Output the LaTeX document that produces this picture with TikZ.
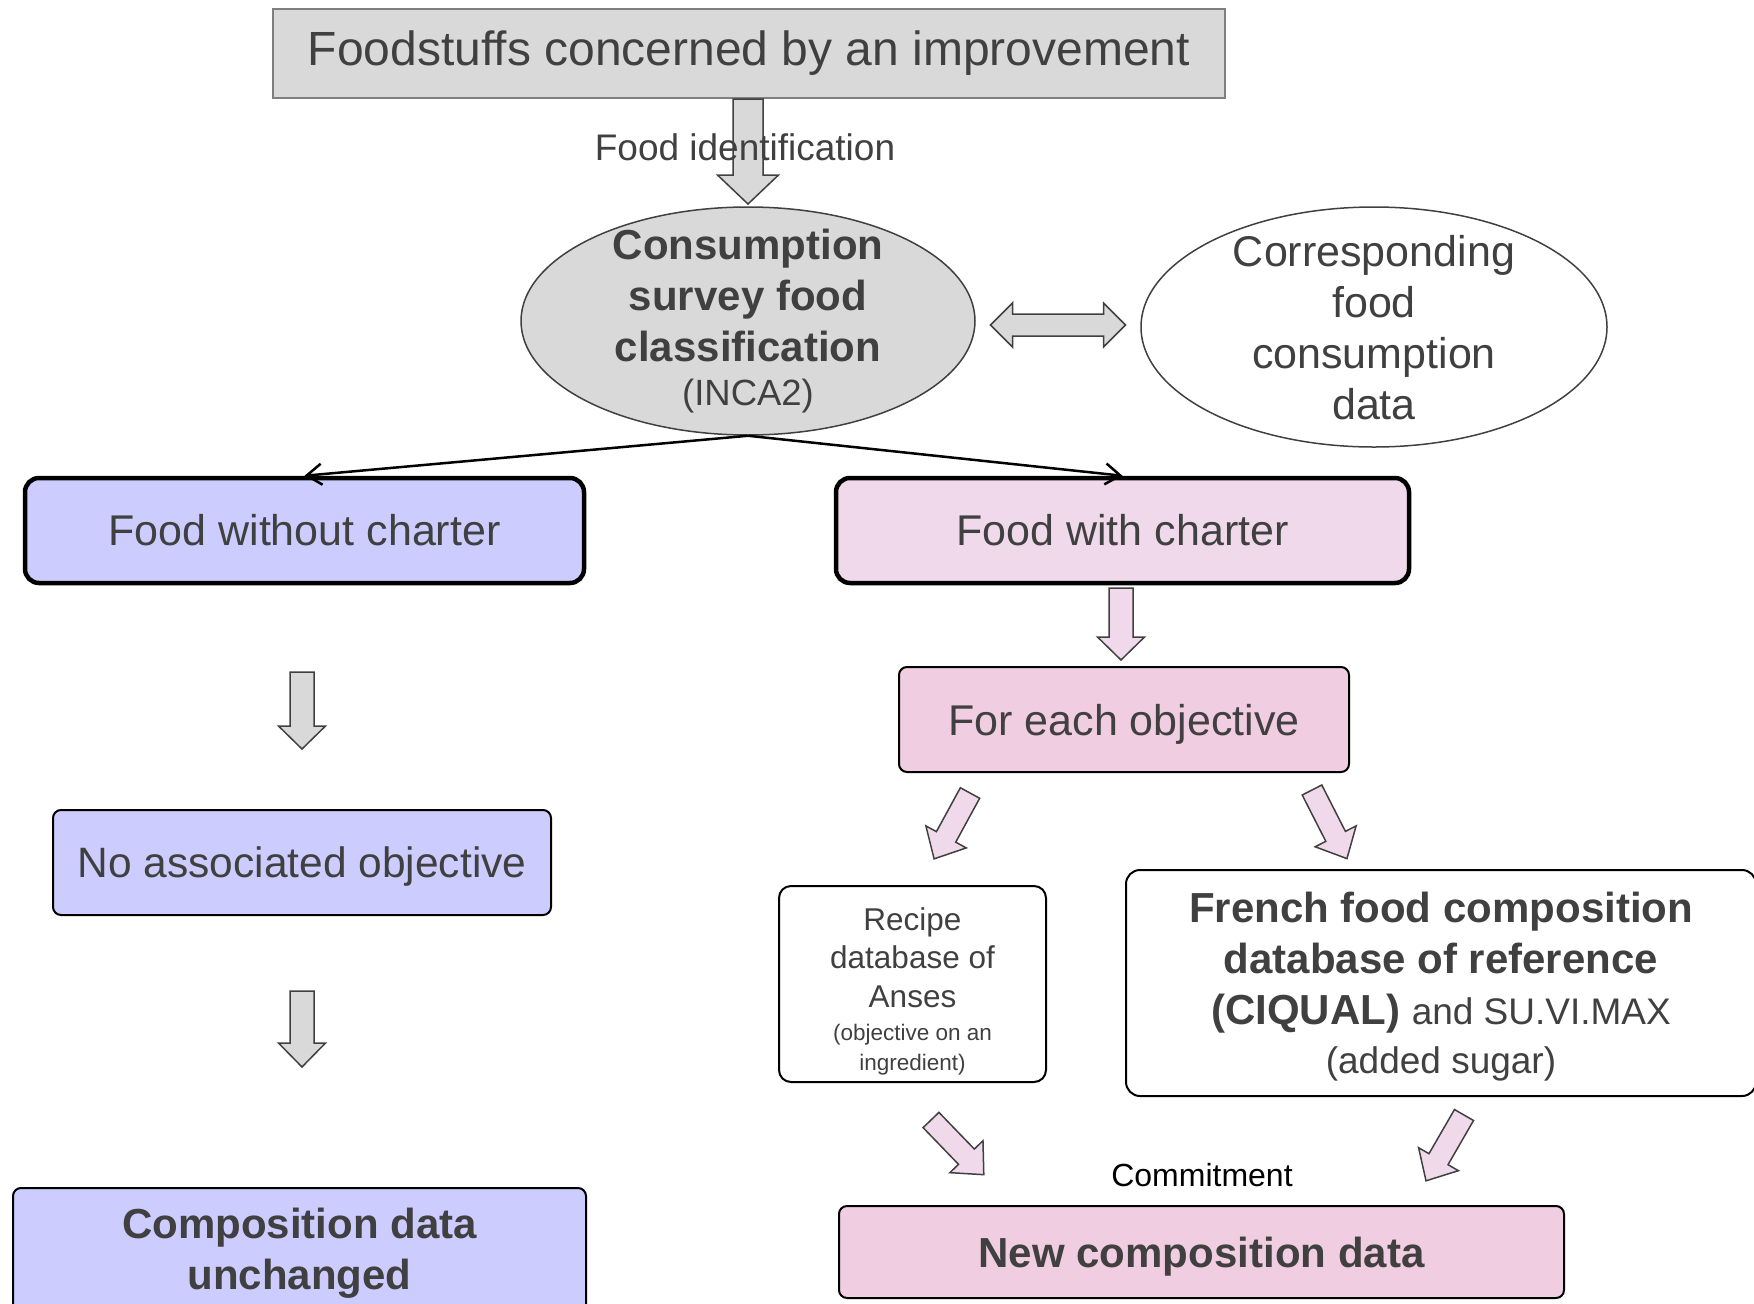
\documentclass[tikz,border=0pt]{standalone}
\usepackage{fontspec}
\setmainfont{Liberation Sans}
\usetikzlibrary{arrows.meta,shapes.geometric}
\definecolor{boxgray}{HTML}{D9D9D9}
\definecolor{edgegray}{HTML}{7F7F7F}
\definecolor{txtgray}{HTML}{404040}
\definecolor{lavender}{HTML}{CCCCFF}
\definecolor{pinklight}{HTML}{F0D9EA}
\definecolor{pinkmid}{HTML}{F0CDE0}
\newcommand{\fatarrow}[7]{\draw[#1,shift={(#2)},rotate=#3] (0,-#5) -- (#4-#7,-#5) -- (#4-#7,-#6) -- (#4,0) -- (#4-#7,#6) -- (#4-#7,#5) -- (0,#5) -- cycle;}
\newcommand{\dblfatarrow}[6]{\draw[#1,shift={(#2)}] (-#3/2,0) -- (-#3/2+#6,#5) -- (-#3/2+#6,#4) -- (#3/2-#6,#4) -- (#3/2-#6,#5) -- (#3/2,0) -- (#3/2-#6,-#5) -- (#3/2-#6,-#4) -- (-#3/2+#6,-#4) -- (-#3/2+#6,-#5) -- cycle;}
\tikzset{
  base/.style={text=txtgray, align=center, inner sep=0pt, font=\fontsize{43}{51}\selectfont},
  thickbox/.style={base, draw=black, line width=4.5pt, rounded corners=14pt, minimum height=105pt},
  thinbox/.style={base, draw=black, line width=2pt, rounded corners=8pt},
  oval/.style={base, ellipse, draw=txtgray, line width=1.5pt, inner xsep=0pt, inner ysep=-20pt},
  fatgray/.style={fill=boxgray, draw=txtgray, line width=1.5pt},
  fatpink/.style={fill=pinklight, draw=txtgray, line width=1.5pt},
  link/.style={line width=2.5pt, -{Straight Barb[length=15pt,width=21pt,line width=2.5pt]}}
}
\begin{document}
\begin{tikzpicture}[x=1pt,y=-1pt]
  \useasboundingbox (0,0) rectangle (1754,1304);
  \clip (0,0) rectangle (1754,1304);
  \node[base, fill=boxgray, draw=edgegray, line width=1.5pt, minimum width=952pt, minimum height=89pt,
        font=\fontsize{48}{56}\selectfont] (foodstuffs) at (749,53.5) {Foodstuffs concerned by an improvement};
  \node[oval, fill=boxgray, minimum width=454pt, minimum height=228pt,
        font=\fontsize{42}{51}\selectfont\bfseries] (survey) at (748,321)
        {Consumption\\survey food\\classification\\[-7pt]{\mdseries\fontsize{36.5}{44}\selectfont (INCA2)}};
  \node[oval, minimum width=466pt, minimum height=240pt, text depth=-2pt] (consdata) at (1374,327)
        {Corresponding\\food\\consumption\\data};
  \fatarrow{fatgray}{748,99}{-90}{105}{15}{30.5}{29}
  \node[base, font=\fontsize{37}{44}\selectfont] (ident) at (745,147) {Food identification};
  \dblfatarrow{fatgray}{1058,325}{135}{11}{22}{22}

  \node[thickbox, fill=lavender, minimum width=559pt] (nochart) at (304.5,530.5) {Food without charter};
  \node[thickbox, fill=pinklight, minimum width=573pt] (chart) at (1122.5,530.5) {Food with charter};
  \draw[link] (survey.south) -- (nochart.north);
  \draw[link] (survey.south) -- (chart.north);

  \fatarrow{fatgray}{302,672}{-90}{77}{12}{23.5}{23}
  \node[thinbox, fill=lavender, minimum width=498pt, minimum height=105pt, text depth=-2pt,
        font=\fontsize{42.5}{51}\selectfont] (noobj) at (302,862.5) {No associated objective};
  \fatarrow{fatgray}{302,991}{-90}{76}{12}{23.5}{24}
  \node[thinbox, fill=lavender, minimum width=573pt, minimum height=130pt, font=\fontsize{42}{51}\selectfont\bfseries]
        (unchanged) at (299.5,1253) {Composition data\\unchanged};

  \fatarrow{fatpink}{1121,588}{-90}{72}{12}{23.5}{23}
  \node[thinbox, fill=pinkmid, minimum width=450pt, minimum height=105pt, text depth=-2pt] (eachobj) at (1124,719.5) {For each objective};
  \fatarrow{fatpink}{970,793}{241.4}{75}{11}{23}{25}
  \fatarrow{fatpink}{1312,790}{-63}{77}{11}{23}{25}
  \node[thinbox, rounded corners=12pt, minimum width=267pt, minimum height=196pt, text depth=-9pt,
        font=\fontsize{31.5}{38.5}\selectfont]
        (recipe) at (912.5,984) {\rule{0pt}{32pt}Recipe\\database of\\Anses\\[-5.5pt]{\fontsize{22.5}{30}\selectfont (objective on an}\\[-8.5pt]{\fontsize{22.5}{30}\selectfont ingredient)}};
  \node[thinbox, rounded corners=14pt, minimum width=630pt, minimum height=226pt, text depth=-2pt,
        font=\fontsize{42}{51}\selectfont]
        (ciqual) at (1441,983) {\textbf{French food composition}\\\textbf{database of reference}\\\textbf{(CIQUAL)} {\fontsize{37}{51}\selectfont and SU.VI.MAX}\\[-2pt]{\fontsize{37}{49}\selectfont (added sugar)}};
  \fatarrow{fatpink}{931,1120}{-46}{76}{11}{23}{25}
  \fatarrow{fatpink}{1464,1115}{240}{76}{11}{23}{25}
  \node[base, text=black, font=\fontsize{32}{38}\selectfont] (commit) at (1202,1175) {Commitment};
  \node[thinbox, fill=pinkmid, minimum width=725pt, minimum height=92pt, text depth=0pt, font=\fontsize{42}{51}\selectfont\bfseries]
        (newdata) at (1201.5,1252) {New composition data};
\end{tikzpicture}
\end{document}
